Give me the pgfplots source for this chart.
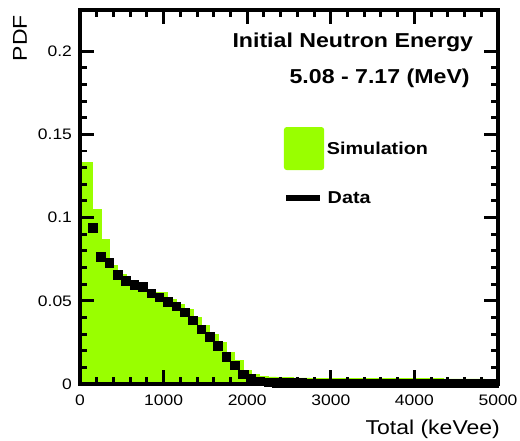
\documentclass[border=0pt]{standalone}
\usepackage{fontspec}
\setmainfont{Liberation Sans}[FakeStretch=1.15]
\usepackage{pgfplots}
\pgfplotsset{compat=1.18}
\definecolor{simgreen}{RGB}{153,255,0}

\begin{document}
\begin{tikzpicture}
\begin{axis}[
  name=ax,
  scale only axis,
  width=313.5pt, height=280.5pt,
  xmin=0, xmax=5000,
  ymin=0, ymax=0.2247,
  axis on top,
  axis line style={line width=3.4pt, line join=miter},
  xtick={0,1000,2000,3000,4000,5000},
  xticklabels={0,1000,2000,3000,4000,5000},
  ytick={0,0.05,0.1,0.15,0.2},
  yticklabels={0,0.05,0.1,0.15,0.2},
  minor x tick num=4,
  minor y tick num=4,
  tick align=inside,
  major tick length=10.5pt,
  minor tick length=5.5pt,
  every tick/.style={black, line width=2.2pt},
  scaled ticks=false,
  tick label style={font=\fontsize{11.4}{13}\selectfont},
  xticklabel style={yshift=-4.5pt},
  yticklabel style={xshift=-2.5pt},
  xlabel={Total (keVee)},
  xlabel style={at={(rel axis cs:1.005,-0.12)}, anchor=east, inner sep=0pt, font=\fontsize{15}{18}\selectfont},
  ylabel={PDF},
  ylabel style={at={(rel axis cs:-0.1435,0.987)}, anchor=east, inner sep=0pt, font=\fontsize{15}{18}\selectfont},
]
% simulation histogram (left bin edges)
\addplot[const plot, fill=simgreen, draw=simgreen, line width=0.5pt] coordinates {
  (0,0.133)(150,0.105)(250,0.087)(350,0.071)(450,0.066)(550,0.061)
  (650,0.059)(750,0.057)(850,0.055)(950,0.055)(1050,0.051)(1150,0.048)
  (1250,0.045)(1350,0.040)(1450,0.035)(1550,0.030)(1650,0.025)(1750,0.019)
  (1850,0.014)(1950,0.008)(2050,0.0058)(2150,0.0048)(2250,0.0043)(2350,0.0040)
  (2450,0.0038)(2550,0.0037)(2650,0.0037)(2750,0.0036)(2850,0.0036)(2950,0.0035)
  (3050,0.0035)(3150,0.0035)(3250,0.0034)(3350,0.0034)(3450,0.0034)(3550,0.0033)
  (3650,0.0033)(3750,0.0033)(3850,0.0033)(3950,0.0032)(4050,0.0032)(4150,0.0032)
  (4250,0.0032)(4350,0.0031)(4450,0.0031)(4550,0.0031)(4650,0.0031)(4750,0.0031)
  (4850,0.0030)(4950,0.0030)(5000,0.0030)
} \closedcycle;
% data
\addplot[only marks, mark=square*, mark size=3.2pt, black] coordinates {
  (150,0.094)(250,0.0765)(350,0.0727)(450,0.0657)(550,0.062)
  (650,0.0596)(750,0.0584)(850,0.0544)(950,0.052)(1050,0.0494)(1150,0.0466)
  (1250,0.043)(1350,0.0384)(1450,0.033)(1550,0.0283)(1650,0.0229)(1750,0.0163)
  (1850,0.0113)(1950,0.0058)(2050,0.0030)(2150,0.0016)(2250,0.0010)(2350,0.0008)
  (2450,0.0007)(2550,0.0006)(2650,0.0006)(2750,0.0005)(2850,0.0005)(2950,0.0005)
  (3050,0.0005)(3150,0.0005)(3250,0.0005)(3350,0.0005)(3450,0.0005)(3550,0.0005)
  (3650,0.0005)(3750,0.0005)(3850,0.0005)(3950,0.0005)(4050,0.0005)(4150,0.0005)
  (4250,0.0005)(4350,0.0005)(4450,0.0005)(4550,0.0005)(4650,0.0005)(4750,0.0005)
  (4850,0.0005)(4950,0.0005)
};
% texts and legend
\node[anchor=east, inner sep=0pt, font=\bfseries\fontsize{15.1}{18}\selectfont] at (rel axis cs:0.941,0.913) {Initial Neutron Energy};
\node[anchor=east, inner sep=0pt, font=\bfseries\fontsize{15.1}{18}\selectfont] at (rel axis cs:0.933,0.818) {5.08 - 7.17 (MeV)};
\fill[simgreen, rounded corners=2pt] (rel axis cs:0.488,0.572) rectangle (rel axis cs:0.584,0.687);
\node[anchor=west, inner sep=0pt, font=\bfseries\fontsize{12.9}{15}\selectfont] at (rel axis cs:0.590,0.630) {Simulation};
\draw[line width=5pt] (rel axis cs:0.494,0.497) -- (rel axis cs:0.574,0.497);
\node[anchor=west, inner sep=0pt, font=\bfseries\fontsize{12.9}{15}\selectfont] at (rel axis cs:0.592,0.497) {Data};
\end{axis}
\pgfresetboundingbox
\useasboundingbox ([shift={(-60pt,-42.75pt)}]ax.south west) rectangle ([shift={(16.5pt,7.5pt)}]ax.north east);
\end{tikzpicture}
\end{document}
